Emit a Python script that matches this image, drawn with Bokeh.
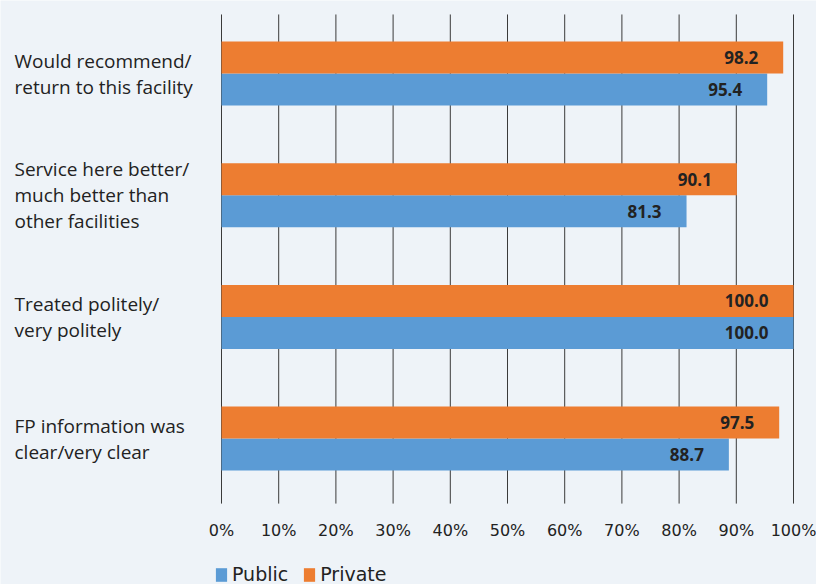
from bokeh.plotting import figure
from bokeh.models import ColumnDataSource, Legend, LegendItem, Range1d
from bokeh.core.properties import value
from bokeh.embed import file_html
from bokeh.resources import INLINE

categories = ["Would recommend/\nreturn to this facility",
              "Service here better/\nmuch better than\nother facilities",
              "Treated politely/\nvery politely",
              "FP information was\nclear/very clear"]
public = [95.4, 81.3, 100.0, 88.7]
private = [98.2, 90.1, 100.0, 97.5]
ticks = [0, 10, 20, 30, 40, 50, 60, 70, 80, 90, 100]
tick_labels = [f"{t}%" for t in ticks]

BG = "#EEF3F8"
BLUE = "#5B9BD5"
ORANGE = "#ED7D31"
TXT = "#222222"

W, H = 816, 584
px_per = 5.72
x0 = -221 / px_per
x1 = (W - 221) / px_per
unit = 121.7            # px per category slot
top_y = -73 / unit
bot_y = (H - 73) / unit
grid_top = -0.485
grid_bot = 3.534
tick_y = 3.755

p = figure(width=W, height=H, output_backend="svg", toolbar_location=None,
           x_range=Range1d(x0, x1), y_range=Range1d(bot_y, top_y),
           min_border=0, background_fill_color=BG,
           border_fill_color=BG, outline_line_color=None)
p.xaxis.visible = False
p.yaxis.visible = False
p.grid.visible = False

n = len(categories)
idx = list(range(n))
bh = 0.263
src = ColumnDataSource(dict(
    y=idx, pub=public, pri=private,
    ypub=[i + bh / 2 for i in idx], ypri=[i - bh / 2 for i in idx],
    pub_lbl=[f"{v:.1f}" for v in public], pri_lbl=[f"{v:.1f}" for v in private],
    cat=categories, lx=[x0 + 14 / px_per] * n,
))
tsrc = ColumnDataSource(dict(x=ticks, lbl=tick_labels,
                             y0=[grid_top] * len(ticks), y1=[grid_bot] * len(ticks),
                             ty=[tick_y] * len(ticks)))

p.segment(x0="x", x1="x", y0="y0", y1="y1", source=tsrc,
          line_color="#3a3a3a", line_width=1)

rb = p.hbar(y="ypub", right="pub", left=0, height=bh, source=src,
            fill_color=BLUE, line_color=None)
ro = p.hbar(y="ypri", right="pri", left=0, height=bh, source=src,
            fill_color=ORANGE, line_color=None)

for xcol, ycol, lcol in (("pub", "ypub", "pub_lbl"), ("pri", "ypri", "pri_lbl")):
    p.text(x=xcol, y=ycol, text=lcol, source=src, x_offset=-25,
           text_align="right", text_baseline="middle",
           text_font=value("Open Sans"), text_font_style="bold",
           text_font_size="17px", text_color=TXT)

p.text(x="lx", y="y", text="cat", source=src, text_align="left",
       text_baseline="middle", text_font=value("Open Sans"),
       text_font_size="19px", text_color=TXT, text_line_height=1.0)

p.text(x="x", y="ty", text="lbl", source=tsrc, text_align="center",
       text_baseline="middle", text_font=value("DejaVu Sans"),
       text_font_size="16px", text_color=TXT)

legend = Legend(items=[LegendItem(label="Public", renderers=[rb]),
                       LegendItem(label="Private", renderers=[ro])],
                orientation="horizontal", location=(214, -1),
                background_fill_alpha=0, border_line_color=None,
                label_text_font="DejaVu Sans", label_text_font_size="19px",
                label_text_color=TXT, glyph_width=14, glyph_height=17,
                spacing=14, padding=0, margin=0, label_standoff=4,
                label_height=18)
p.add_layout(legend, "center")

open("out.html", "w").write(file_html(p, INLINE))
